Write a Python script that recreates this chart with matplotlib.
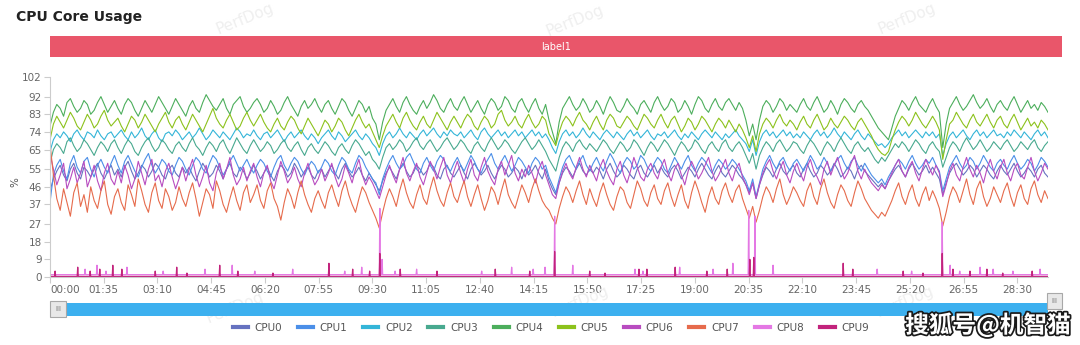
import numpy as np
import matplotlib.pyplot as plt
from matplotlib.lines import Line2D
from matplotlib.patches import Rectangle
import matplotlib.patheffects as pe

# sample period of the core-usage log (seconds)
step = 6

cpu0 = [44, 50, 54, 57, 52, 49, 55, 58, 53, 50, 56, 54, 51, 55, 58, 53, 50, 54, 57, 52,
        55, 51, 56, 59, 54, 50, 53, 57, 55, 51, 54, 58, 56, 52, 50, 55, 57, 53, 51, 56,
        53, 56, 52, 49, 54, 58, 55, 51, 53, 57, 54, 50, 55, 58, 53, 51, 56, 54, 50, 53,
        57, 54, 50, 53, 56, 52, 49, 54, 57, 55, 51, 53, 58, 55, 51, 54, 56, 52, 50, 54,
        55, 51, 54, 57, 53, 50, 55, 58, 54, 51, 53, 56, 52, 49, 53, 50, 47, 44, 49, 53,
        56, 53, 50, 55, 58, 54, 51, 53, 57, 55, 52, 54, 58, 56, 52, 50, 55, 57, 53, 51,
        54, 57, 53, 50, 55, 58, 55, 52, 54, 57, 53, 50, 54, 57, 55, 51, 53, 56, 54, 50,
        55, 52, 54, 57, 53, 50, 55, 49, 45, 42, 48, 53, 56, 54, 51, 55, 58, 54, 52, 55,
        53, 56, 54, 50, 55, 58, 54, 51, 53, 57, 55, 52, 50, 55, 57, 53, 51, 54, 57, 53,
        56, 53, 51, 55, 57, 54, 50, 53, 56, 54, 51, 55, 58, 55, 52, 50, 54, 57, 53, 51,
        54, 57, 55, 52, 50, 47, 43, 48, 40, 47, 52, 56, 54, 51, 55, 58, 54, 52, 55, 57,
        53, 51, 55, 58, 54, 51, 53, 57, 55, 52, 54, 58, 55, 51, 53, 56, 54, 50, 55, 57,
        54, 52, 50, 48, 46, 48, 45, 49, 52, 55, 57, 54, 51, 55, 58, 55, 52, 54, 57, 53,
        56, 53, 50, 42, 48, 53, 56, 58, 55, 52, 54, 57, 55, 51, 54, 57, 55, 52, 50, 54,
        57, 54, 52, 55, 58, 54, 51, 53, 56, 54, 51, 55, 57, 53, 51]
cpu1 = [38, 52, 57, 60, 54, 50, 58, 62, 56, 53, 59, 61, 55, 51, 57, 60, 56, 53, 58, 62,
        57, 53, 59, 62, 58, 54, 51, 56, 60, 63, 57, 53, 56, 60, 58, 54, 52, 57, 61, 59,
        55, 52, 57, 61, 59, 55, 53, 58, 62, 60, 56, 52, 55, 59, 62, 58, 54, 57, 60, 56,
        53, 57, 60, 58, 54, 51, 56, 60, 62, 57, 54, 58, 61, 59, 55, 52, 56, 59, 57, 53,
        56, 60, 58, 54, 52, 57, 61, 59, 55, 53, 58, 62, 60, 56, 53, 50, 48, 42, 50, 55,
        59, 62, 58, 55, 57, 61, 63, 59, 55, 53, 58, 61, 57, 54, 59, 62, 60, 56, 54, 58,
        61, 57, 54, 58, 62, 59, 55, 53, 57, 60, 63, 58, 55, 59, 62, 58, 54, 57, 61, 59,
        56, 53, 58, 61, 59, 55, 57, 51, 47, 43, 50, 56, 60, 62, 58, 55, 59, 62, 57, 54,
        58, 61, 57, 54, 59, 63, 60, 56, 53, 58, 61, 59, 55, 57, 62, 60, 56, 54, 58, 61,
        59, 55, 53, 57, 61, 58, 55, 59, 62, 57, 54, 58, 61, 59, 56, 53, 57, 60, 58, 55,
        57, 60, 58, 55, 52, 49, 44, 50, 41, 48, 55, 59, 62, 58, 55, 59, 61, 57, 54, 58,
        60, 57, 54, 58, 62, 59, 55, 57, 61, 58, 54, 57, 60, 62, 58, 55, 59, 61, 57, 54,
        58, 55, 52, 50, 48, 50, 47, 51, 54, 57, 60, 58, 55, 59, 62, 58, 55, 57, 60, 58,
        61, 57, 54, 44, 50, 56, 59, 62, 58, 55, 57, 61, 59, 55, 58, 62, 59, 56, 54, 58,
        60, 57, 55, 59, 62, 58, 55, 57, 60, 58, 54, 57, 61, 59, 56]
cpu2 = [64, 70, 73, 71, 74, 72, 69, 73, 75, 72, 70, 74, 73, 71, 75, 72, 70, 73, 74, 71,
        73, 75, 72, 70, 74, 71, 73, 76, 72, 70, 73, 75, 71, 69, 73, 74, 72, 75, 73, 70,
        72, 74, 71, 73, 76, 73, 70, 72, 75, 73, 71, 74, 72, 70, 73, 76, 74, 71, 73, 72,
        75, 72, 70, 73, 74, 71, 73, 75, 72, 69, 72, 74, 71, 73, 75, 72, 70, 73, 71, 68,
        71, 73, 75, 72, 70, 74, 72, 69, 71, 73, 75, 72, 70, 73, 71, 68, 66, 62, 68, 72,
        74, 71, 73, 76, 73, 71, 74, 72, 70, 73, 75, 72, 74, 76, 73, 71, 74, 72, 75, 73,
        72, 74, 71, 73, 75, 72, 70, 74, 76, 73, 71, 73, 75, 72, 74, 71, 73, 75, 72, 74,
        71, 73, 75, 72, 74, 71, 73, 70, 66, 63, 69, 73, 75, 72, 74, 71, 73, 76, 73, 71,
        74, 72, 70, 73, 75, 73, 71, 74, 72, 70, 73, 75, 72, 74, 71, 73, 75, 72, 70, 73,
        72, 74, 71, 73, 75, 72, 70, 73, 71, 74, 72, 70, 73, 75, 73, 71, 74, 72, 70, 73,
        71, 73, 75, 72, 70, 68, 64, 70, 62, 69, 73, 75, 72, 74, 71, 73, 75, 72, 74, 71,
        73, 71, 74, 72, 70, 73, 75, 72, 74, 71, 73, 76, 73, 71, 74, 72, 70, 73, 75, 72,
        70, 73, 71, 69, 67, 68, 66, 68, 71, 73, 75, 72, 74, 71, 73, 75, 73, 71, 74, 72,
        74, 71, 73, 62, 68, 72, 74, 71, 73, 75, 72, 70, 73, 75, 72, 74, 71, 73, 75, 72,
        73, 71, 74, 72, 75, 73, 71, 74, 72, 70, 73, 75, 72, 74, 71]
cpu3 = [58, 65, 68, 66, 63, 69, 71, 67, 64, 66, 70, 68, 65, 62, 66, 69, 67, 64, 68, 70,
        66, 63, 67, 70, 68, 64, 62, 66, 69, 71, 67, 64, 66, 70, 68, 65, 63, 67, 69, 66,
        64, 68, 71, 67, 65, 62, 66, 69, 67, 64, 68, 70, 66, 63, 67, 71, 68, 65, 63, 67,
        70, 67, 64, 66, 69, 67, 63, 65, 68, 70, 66, 64, 67, 69, 65, 62, 66, 68, 65, 63,
        66, 69, 67, 64, 62, 66, 68, 65, 63, 67, 70, 68, 65, 62, 64, 60, 58, 55, 61, 66,
        68, 65, 67, 70, 68, 64, 66, 69, 71, 67, 65, 68, 70, 67, 64, 66, 69, 71, 68, 65,
        67, 70, 68, 65, 63, 67, 69, 66, 64, 68, 71, 68, 65, 67, 70, 68, 65, 63, 66, 69,
        71, 68, 65, 67, 70, 67, 64, 60, 57, 54, 61, 66, 69, 67, 64, 68, 70, 67, 65, 68,
        66, 64, 67, 70, 68, 65, 63, 66, 69, 67, 64, 66, 70, 68, 65, 62, 66, 69, 67, 64,
        67, 70, 68, 65, 62, 66, 69, 67, 64, 66, 70, 68, 65, 63, 67, 69, 66, 64, 68, 70,
        66, 64, 67, 69, 66, 62, 58, 63, 55, 62, 66, 69, 67, 64, 68, 70, 67, 64, 66, 69,
        68, 65, 63, 67, 70, 68, 65, 62, 66, 69, 67, 64, 68, 71, 68, 65, 63, 67, 69, 66,
        64, 66, 63, 60, 58, 61, 59, 62, 65, 68, 66, 69, 67, 64, 67, 70, 68, 65, 63, 67,
        69, 66, 64, 56, 61, 66, 69, 67, 64, 68, 71, 68, 65, 67, 70, 67, 64, 66, 69, 67,
        65, 68, 70, 67, 64, 66, 69, 67, 65, 68, 70, 66, 64, 67, 69]
cpu4 = [77, 84, 88, 86, 82, 89, 91, 87, 84, 86, 90, 88, 83, 85, 89, 92, 88, 84, 87, 90,
        86, 83, 88, 91, 89, 85, 82, 86, 90, 87, 84, 88, 92, 89, 86, 83, 87, 91, 88, 85,
        82, 87, 90, 86, 84, 89, 93, 90, 87, 85, 88, 91, 86, 83, 88, 90, 92, 87, 84, 86,
        89, 91, 88, 84, 86, 90, 87, 83, 85, 89, 92, 88, 85, 82, 87, 90, 86, 88, 91, 87,
        84, 88, 90, 86, 83, 87, 91, 89, 85, 82, 86, 90, 88, 84, 87, 81, 78, 70, 79, 85,
        88, 91, 87, 84, 89, 92, 88, 85, 83, 87, 90, 86, 89, 93, 90, 86, 84, 88, 91, 87,
        85, 89, 92, 88, 84, 87, 90, 86, 83, 88, 91, 89, 85, 87, 92, 90, 86, 84, 89, 91,
        87, 84, 88, 91, 86, 83, 88, 80, 74, 68, 79, 86, 89, 92, 88, 85, 87, 91, 88, 84,
        86, 90, 87, 83, 88, 92, 89, 85, 84, 87, 91, 88, 86, 83, 88, 90, 87, 84, 89, 92,
        88, 85, 87, 91, 89, 84, 86, 90, 87, 83, 88, 92, 90, 86, 84, 88, 91, 87, 85, 89,
        91, 88, 85, 89, 86, 80, 72, 78, 70, 80, 87, 90, 88, 84, 87, 91, 89, 85, 88, 86,
        84, 88, 91, 87, 85, 89, 92, 88, 84, 86, 90, 87, 83, 88, 91, 89, 86, 84, 88, 90,
        87, 85, 82, 79, 76, 74, 72, 70, 76, 82, 86, 90, 88, 85, 89, 92, 88, 86, 84, 88,
        91, 87, 84, 66, 78, 86, 89, 92, 88, 85, 87, 90, 93, 89, 86, 88, 91, 87, 84, 88,
        90, 87, 85, 89, 92, 88, 84, 87, 90, 86, 88, 85, 89, 87, 84]
cpu5 = [70, 78, 82, 79, 76, 80, 84, 81, 77, 75, 79, 83, 80, 76, 78, 82, 85, 80, 77, 79,
        81, 77, 74, 78, 82, 80, 76, 79, 83, 80, 77, 74, 78, 81, 84, 79, 76, 80, 82, 78,
        75, 79, 83, 80, 77, 74, 78, 82, 86, 81, 78, 76, 80, 83, 79, 75, 77, 81, 84, 80,
        77, 80, 83, 79, 76, 74, 78, 81, 77, 75, 79, 82, 80, 76, 73, 77, 81, 78, 75, 72,
        76, 80, 78, 74, 77, 81, 79, 75, 72, 76, 80, 83, 79, 76, 78, 74, 70, 66, 72, 77,
        80, 83, 79, 76, 81, 84, 80, 77, 75, 79, 82, 78, 76, 80, 84, 81, 78, 75, 79, 82,
        79, 76, 80, 83, 81, 77, 75, 79, 82, 80, 76, 78, 83, 85, 80, 77, 79, 82, 78, 76,
        80, 83, 79, 76, 78, 82, 80, 73, 70, 67, 74, 79, 82, 80, 77, 81, 84, 80, 78, 75,
        79, 82, 78, 75, 80, 83, 81, 77, 76, 79, 82, 80, 77, 75, 79, 83, 81, 78, 76, 80,
        83, 79, 76, 80, 82, 78, 74, 77, 81, 79, 75, 78, 82, 80, 77, 74, 78, 81, 79, 76,
        80, 77, 74, 78, 75, 71, 66, 72, 64, 73, 78, 81, 79, 76, 80, 83, 79, 77, 80, 78,
        75, 79, 82, 78, 76, 80, 83, 79, 75, 77, 81, 78, 76, 79, 82, 80, 77, 75, 79, 81,
        78, 75, 72, 68, 65, 63, 62, 64, 70, 75, 79, 82, 80, 77, 80, 84, 81, 78, 76, 79,
        82, 79, 75, 60, 70, 78, 80, 84, 81, 78, 76, 80, 83, 79, 77, 80, 83, 79, 76, 80,
        82, 78, 76, 80, 83, 79, 75, 78, 81, 77, 79, 76, 80, 78, 75]
cpu6 = [63, 55, 47, 52, 58, 45, 50, 56, 48, 53, 59, 46, 51, 57, 49, 44, 53, 58, 50, 47,
        54, 48, 57, 52, 45, 50, 59, 53, 47, 55, 60, 49, 52, 46, 54, 58, 51, 45, 50, 56,
        49, 55, 60, 52, 46, 51, 57, 48, 44, 53, 58, 50, 55, 61, 52, 47, 50, 56, 49, 54,
        58, 51, 46, 53, 57, 49, 45, 52, 59, 54, 48, 51, 56, 50, 46, 53, 58, 52, 47, 50,
        55, 49, 53, 58, 51, 46, 50, 57, 53, 48, 55, 60, 52, 47, 51, 48, 44, 40, 46, 52,
        57, 52, 48, 55, 61, 53, 49, 54, 58, 51, 47, 53, 59, 55, 50, 56, 61, 52, 48, 54,
        59, 53, 48, 55, 60, 52, 49, 56, 61, 54, 50, 47, 55, 59, 52, 57, 62, 53, 49, 55,
        51, 57, 53, 48, 55, 59, 52, 47, 42, 40, 48, 54, 58, 53, 50, 56, 61, 55, 51, 57,
        53, 49, 56, 60, 54, 50, 47, 55, 59, 52, 48, 54, 61, 56, 51, 49, 55, 58, 53, 50,
        56, 60, 53, 49, 55, 58, 52, 47, 54, 59, 55, 50, 53, 57, 61, 54, 49, 52, 56, 60,
        53, 49, 55, 58, 51, 47, 42, 48, 40, 47, 53, 57, 60, 54, 50, 55, 59, 52, 48, 54,
        58, 53, 49, 56, 60, 54, 51, 47, 55, 59, 52, 57, 61, 55, 50, 53, 58, 62, 54, 50,
        55, 51, 48, 46, 44, 47, 45, 49, 53, 57, 60, 54, 51, 56, 59, 53, 49, 55, 60, 56,
        52, 57, 53, 41, 47, 54, 58, 52, 49, 56, 61, 55, 51, 57, 53, 48, 55, 60, 54, 50,
        56, 60, 53, 49, 55, 58, 52, 50, 56, 61, 54, 49, 53, 58, 55]
cpu7 = [68, 52, 40, 34, 45, 38, 31, 43, 48, 36, 42, 33, 46, 39, 35, 44, 49, 37, 32, 41,
        45, 38, 34, 47, 42, 36, 50, 44, 37, 33, 43, 48, 39, 35, 45, 41, 34, 38, 46, 40,
        36, 43, 48, 40, 31, 38, 45, 42, 35, 49, 44, 37, 33, 40, 46, 39, 34, 43, 47, 38,
        42, 47, 39, 35, 44, 48, 40, 36, 29, 38, 45, 41, 35, 43, 49, 42, 37, 33, 40, 44,
        39, 35, 43, 47, 41, 36, 44, 49, 42, 37, 33, 40, 46, 43, 38, 34, 30, 25, 33, 40,
        45, 41, 36, 44, 50, 43, 38, 35, 42, 47, 40, 37, 45, 51, 44, 39, 36, 43, 48, 41,
        38, 44, 49, 41, 36, 42, 47, 40, 34, 39, 46, 43, 37, 44, 50, 42, 38, 35, 41, 47,
        43, 38, 45, 50, 44, 39, 36, 34, 30, 27, 35, 41, 46, 43, 38, 44, 49, 42, 37, 45,
        40, 36, 43, 48, 42, 37, 34, 41, 46, 44, 38, 35, 42, 49, 45, 39, 36, 43, 47, 40,
        37, 44, 48, 41, 36, 42, 47, 39, 35, 43, 49, 44, 38, 33, 41, 46, 40, 37, 44, 48,
        42, 38, 44, 47, 40, 35, 30, 36, 28, 34, 41, 46, 43, 38, 45, 50, 42, 37, 41, 46,
        43, 39, 36, 44, 48, 41, 37, 45, 50, 43, 38, 35, 42, 47, 44, 39, 36, 43, 49, 45,
        40, 37, 34, 32, 30, 33, 31, 35, 39, 44, 48, 41, 37, 43, 47, 40, 36, 42, 46, 39,
        44, 40, 35, 26, 33, 41, 46, 43, 38, 44, 50, 42, 37, 45, 49, 41, 36, 40, 46, 42,
        38, 44, 48, 41, 36, 43, 47, 40, 37, 45, 49, 42, 38, 44, 40]

# CPU8 / CPU9 idle near zero with short bursts (time in s, value in %)
cpu8_base = 1.2
cpu8_spike_t = [62, 83, 99, 136, 200, 274, 322, 362, 429, 521,
                551, 583, 587, 610, 648, 763, 816, 854, 875, 892,
                924, 1034, 1048, 1113, 1172, 1207, 1235, 1246, 1278, 1462,
                1523, 1577, 1591, 1608, 1644, 1667, 1702, 1750]
cpu8_spike_v = [4, 6, 3, 5, 3, 4, 6, 3, 4, 3,
                5, 35, 9, 3, 4, 3, 5, 4, 5, 31,
                6, 4, 3, 5, 4, 7, 34, 31, 6, 4,
                3, 28, 6, 3, 5, 4, 3, 4]
cpu9_base = 0.3
cpu9_spike_t = [9, 49, 71, 88, 111, 127, 186, 224, 242, 300,
                332, 394, 493, 535, 565, 583, 619, 684, 787, 848,
                892, 954, 981, 1041, 1055, 1105, 1161, 1197, 1237, 1244,
                1402, 1419, 1508, 1543, 1577, 1596, 1626, 1656, 1684, 1736]
cpu9_spike_v = [3, 5, 3, 4, 6, 4, 3, 5, 2, 6,
                3, 2, 7, 4, 3, 12, 4, 3, 4, 3,
                13, 3, 2, 4, 4, 5, 3, 4, 9, 10,
                7, 4, 3, 2, 12, 4, 3, 4, 2, 3]

names = ["CPU0", "CPU1", "CPU2", "CPU3", "CPU4",
         "CPU5", "CPU6", "CPU7", "CPU8", "CPU9"]
colors = ["#6672c0", "#4b8fe8", "#34b5d8", "#48a98f", "#4cae5c",
          "#8cc21c", "#b84cc0", "#e66b4c", "#e478e4", "#c2237c"]

y_ticks = [0, 9, 18, 27, 37, 46, 55, 65, 74, 83, 92, 102]
tick_every = 95

t_end = (len(cpu4) - 1) * step
t_fine = np.arange(0, t_end + 1)


def bursts(base, ts, vs):
    y = np.full(t_fine.shape, base, dtype=float)
    y[np.searchsorted(t_fine, ts)] = vs
    return y


cpu8 = bursts(cpu8_base, cpu8_spike_t, cpu8_spike_v)
cpu9 = bursts(cpu9_base, cpu9_spike_t, cpu9_spike_v)

W, H = 1080, 345
fig = plt.figure(figsize=(W / 100, H / 100), dpi=100)
ax = fig.add_axes([50 / W, 68 / H, 998 / W, 200 / H])

series = [cpu0, cpu1, cpu2, cpu3, cpu4, cpu5, cpu6, cpu7]
for name, s, c in zip(names[:8], series, colors[:8]):
    ax.plot(np.arange(len(s)) * step, s, color=c, lw=0.8, label=name)
ax.plot(t_fine, cpu8, color=colors[8], lw=0.9, label=names[8])
ax.plot(t_fine, cpu9, color=colors[9], lw=0.9, label=names[9])

ax.set_xlim(0, t_end)
ax.set_ylim(0, 102)
ax.set_yticks(y_ticks)
ax.set_yticklabels([str(v) for v in y_ticks])
xt = np.arange(0, t_end + 1, tick_every)
ax.set_xticks(xt)
labels = ax.set_xticklabels([f"{t // 60:02d}:{t % 60:02d}" for t in xt])
labels[0].set_horizontalalignment("left")
ax.tick_params(axis="both", labelsize=7.5, colors="#cccccc",
               labelcolor="#666666", length=4, width=0.8, pad=2)
for side in ["top", "right"]:
    ax.spines[side].set_visible(False)
for side in ["left", "bottom"]:
    ax.spines[side].set_color("#cccccc")
    ax.spines[side].set_linewidth(0.8)

# label band above the plot
band = fig.add_axes([50 / W, (H - 57) / H, 1012 / W, 21 / H])
band.set_facecolor("#e9566a")
band.set_xticks([])
band.set_yticks([])
for sp in band.spines.values():
    sp.set_visible(False)
band.text(0.5, 0.5, "label1", color="white", fontsize=7,
          ha="center", va="center", transform=band.transAxes)

# overlay in pixel coordinates for title, zoom slider and watermarks
ov = fig.add_axes([0, 0, 1, 1], zorder=5)
ov.set_xlim(0, W)
ov.set_ylim(H, 0)
ov.axis("off")
ov.text(16, 17, "CPU Core Usage", fontsize=10, fontweight="bold",
        color="#222222", va="center", ha="left")
ov.text(15, 182, "%", fontsize=7.5, color="#555555", rotation=90,
        ha="center", va="center")

for (wx, wy) in [(245, 19), (575, 21), (907, 19), (235, 308), (580, 302), (905, 302)]:
    ov.text(wx, wy, "PerfDog", fontsize=11, color="#efefef", rotation=22,
            ha="center", va="center", zorder=0)

ov.add_patch(Rectangle((50, 302.5), 998, 13, facecolor="#3cb0ef", edgecolor="none"))
ov.add_patch(Rectangle((50, 300.5), 16, 16, facecolor="#e8e8e8", edgecolor="#a8a8a8", lw=0.8))
ov.text(58, 309, "III", fontsize=5, color="#777777", ha="center", va="center")
ov.add_patch(Rectangle((1047, 292.5), 15, 16, facecolor="#e8e8e8", edgecolor="#a8a8a8", lw=0.8))
ov.text(1054.5, 301, "III", fontsize=5, color="#777777", ha="center", va="center")

handles = [Line2D([], [], color=c, lw=3) for c in colors]
fig.legend(handles, names, loc="center", bbox_to_anchor=(551 / W, 1 - 328 / H),
           ncol=10, frameon=False, fontsize=7.5, handlelength=1.45,
           handletextpad=0.65, columnspacing=1.5, labelcolor="#555555")

ov.text(988, 325, "搜狐号@机智猫", fontsize=17, fontweight="bold",
        family=["Noto Sans CJK SC", "DejaVu Sans"], color="white",
        ha="center", va="center",
        path_effects=[pe.withStroke(linewidth=2.5, foreground="#1a1a1a")])

fig.savefig("out.png", dpi=100)
